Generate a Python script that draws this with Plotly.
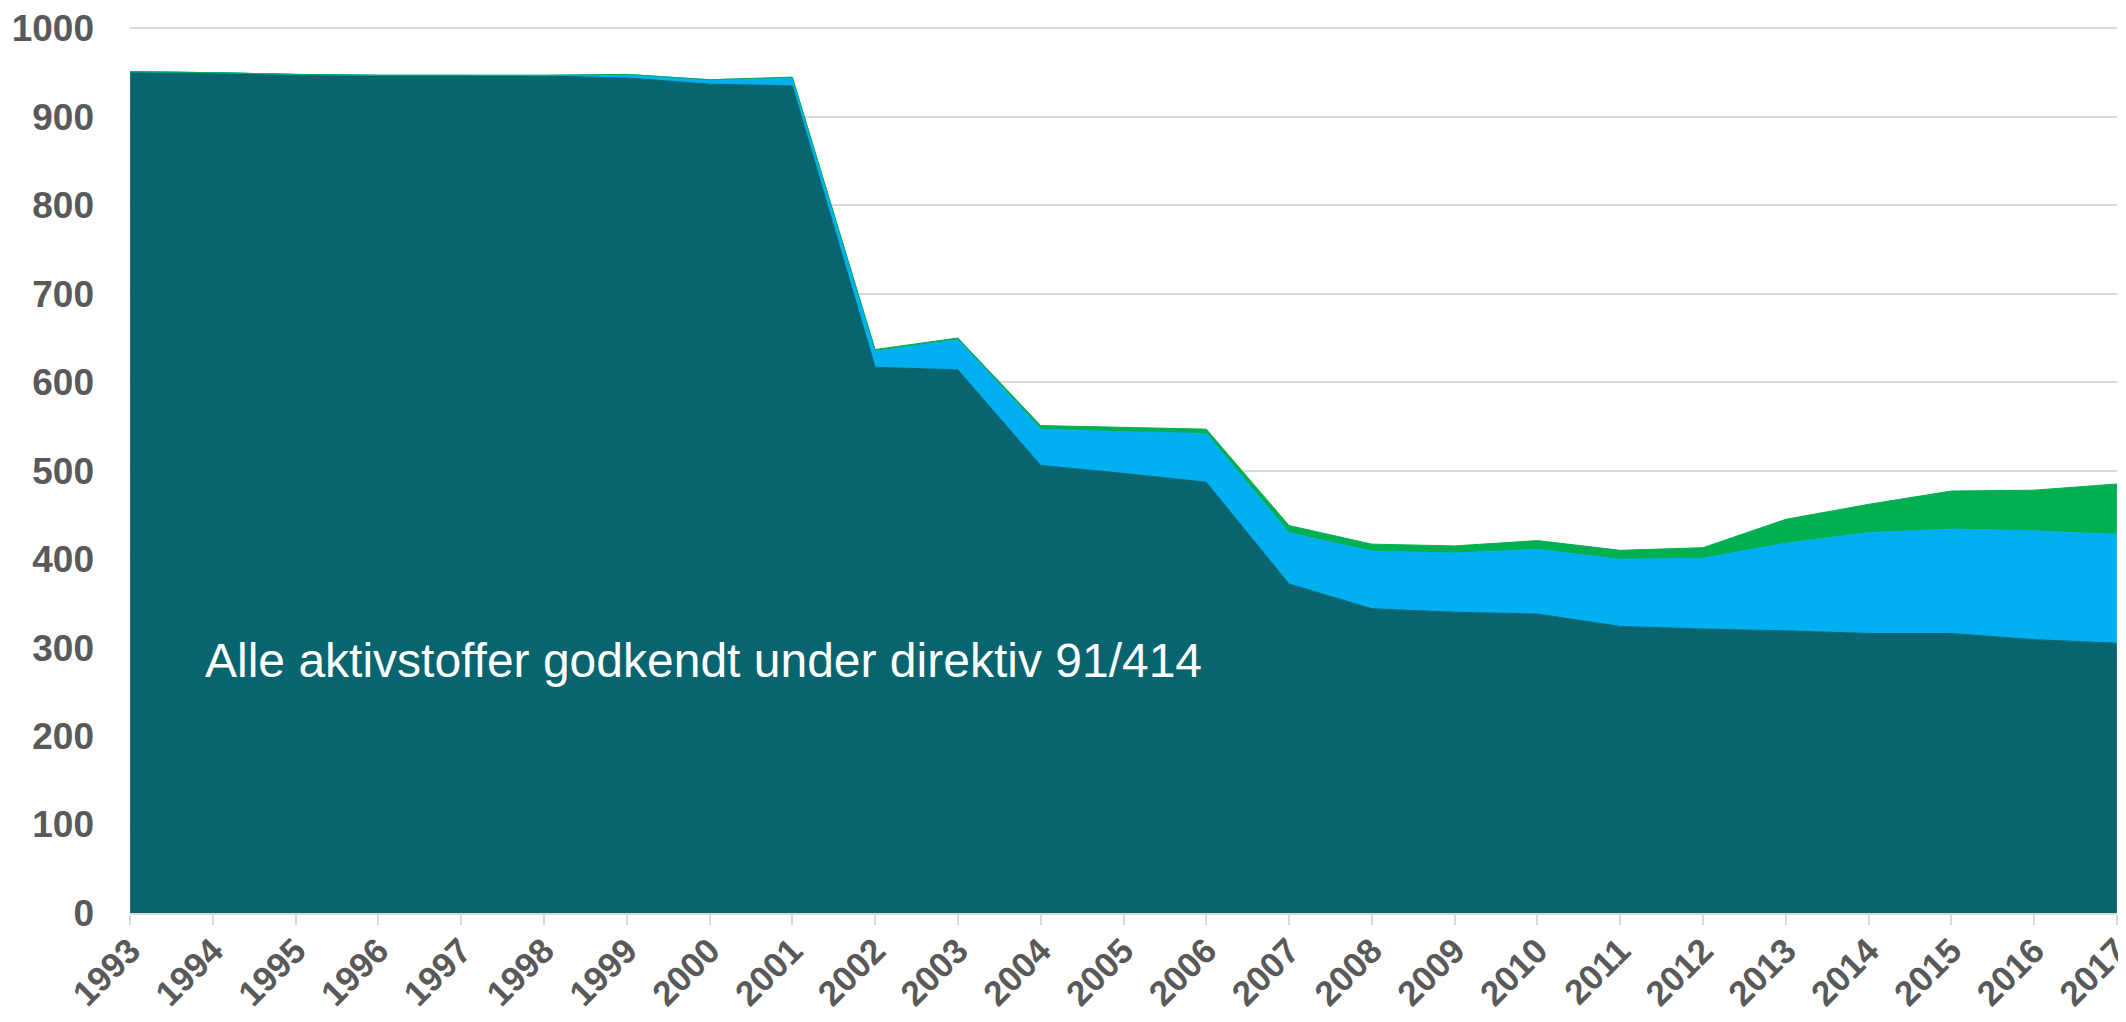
import plotly.graph_objects as go

years = list(range(1993, 2018))
year_labels = [str(y) for y in years]

godkendt_91_414 = [951, 950, 948, 947, 947, 946, 944, 937, 935, 617, 614, 506, 497, 487,
                   372, 344, 340, 338, 324, 321, 319, 316, 316, 309, 305]
serie_bla = [0, 0, 0, 0, 0, 1, 4, 5, 9, 18, 34, 41, 47, 55,
             58, 65, 67, 73, 76, 80, 99, 114, 118, 123, 123]
serie_gron = [0, 0, 0, 0, 0, 0, 0, 0, 1, 2, 2, 4, 5, 5,
              8, 8, 8, 10, 10, 12, 27, 32, 43, 46, 57]

y_ticks = list(range(0, 1001, 100))

FONT = "Liberation Sans, Arial, sans-serif"

fig = go.Figure()
for name, vals, col in [
    ("Alle aktivstoffer godkendt under direktiv 91/414", godkendt_91_414, "#08646F"),
    ("Blå", serie_bla, "#00B0F0"),
    ("Grøn", serie_gron, "#00B050"),
]:
    fig.add_trace(go.Scatter(
        x=years, y=vals, name=name, mode="lines", stackgroup="one",
        line=dict(color=col, width=1), fillcolor=col, hoverinfo="x+y",
    ))

fig.add_annotation(
    x=1993.88, y=285, xref="x", yref="y", xanchor="left", yanchor="middle",
    text="Alle aktivstoffer godkendt under direktiv 91/414", showarrow=False,
    font=dict(family=FONT, size=48, color="white"),
)

# page body has an 8px default margin, so the figure is 16px smaller than the window
fig.update_layout(
    width=2110, height=1006,
    margin=dict(l=122, r=1, t=16, b=101, autoexpand=False),
    paper_bgcolor="white", plot_bgcolor="white",
    showlegend=False,
    font=dict(family=FONT, color="#595959"),
)
fig.update_xaxes(
    range=[1992.999, 2017.001], tickmode="array", tickvals=years, ticktext=year_labels,
    tickangle=-45, tickfont=dict(size=35, color="#595959", family=FONT, weight="bold"),
    ticks="outside", ticklen=10, tickcolor="#D9D9D9", tickwidth=2,
    showline=True, linecolor="#D9D9D9", linewidth=2, showgrid=False, zeroline=False,
    automargin=False, ticklabelstandoff=-9, ticklabeloverflow="allow",
)
fig.update_yaxes(
    range=[0, 1005], tickmode="array", tickvals=y_ticks,
    tickfont=dict(size=37, color="#595959", family=FONT, weight="bold"),
    showgrid=True, gridcolor="#D9D9D9", gridwidth=2, zeroline=False, ticks="",
    ticklabelstandoff=35, automargin=False,
)

fig.write_html("out.html")
